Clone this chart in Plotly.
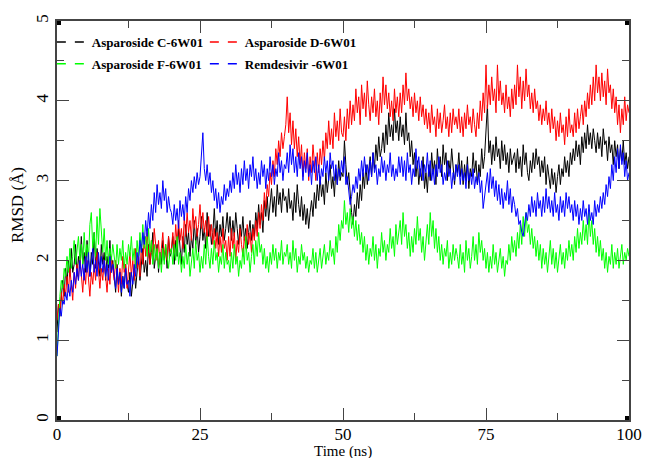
import numpy as np
import plotly.graph_objects as go

# RMSD samples every 0.25 ns from 0 to 100 ns
STEP_NS = 0.25

rmsd_c = [
    1.1, 1.45, 1.3, 1.6, 1.75, 1.55, 1.9, 1.7, 2.0, 1.8, 2.15, 1.85, 1.95, 2.2, 1.8, 2.05, 1.9, 2.3, 1.95, 2.1, 1.85, 2.25, 2.0, 1.8, 2.1, 1.95, 2.35, 1.9, 2.15, 2.0, 1.8, 2.2, 1.95, 2.1, 1.75, 2.05, 1.9, 2.25, 1.85, 2.0,
    1.8, 1.6, 1.95, 1.7, 1.85, 1.55, 1.8, 1.65, 1.95, 1.7, 1.6, 1.85, 1.55, 1.75, 1.9, 1.65, 1.85, 2.05, 1.75, 1.95, 2.15, 1.85, 2.0, 1.8, 2.2, 1.95, 2.1, 2.35, 1.9, 2.05, 2.2, 1.85, 2.1, 1.95, 2.25, 2.0, 2.15, 1.9, 2.3, 2.05,
    2.1, 2.3, 1.95, 2.25, 2.05, 2.4, 2.15, 1.95, 2.3, 2.1, 2.45, 2.2, 2.35, 2.05, 2.3, 2.15, 2.5, 2.2, 2.4, 2.1, 2.3, 2.55, 2.25, 2.4, 2.15, 2.6, 2.3, 2.45, 2.2, 2.35, 2.65, 2.3, 2.5, 2.2, 2.45, 2.3, 2.55, 2.25, 2.4, 2.6,
    2.35, 2.55, 2.25, 2.5, 2.3, 2.6, 2.4, 2.2, 2.45, 2.3, 2.55, 2.25, 2.4, 2.15, 2.35, 2.5, 2.25, 2.45, 2.3, 2.6, 2.4, 2.7, 2.45, 2.6, 2.35, 2.75, 2.55, 2.8, 2.5, 2.7, 2.9, 2.6, 2.8, 2.55, 2.95, 2.7, 2.85, 2.6, 2.9, 2.75,
    2.8, 2.6, 2.9, 2.65, 2.75, 2.5, 2.85, 2.6, 2.95, 2.7, 2.55, 2.8, 2.5, 2.7, 2.45, 2.65, 2.4, 2.6, 2.75, 2.55, 2.85, 2.65, 2.95, 2.75, 3.05, 2.8, 2.95, 2.7, 3.1, 2.85, 3.0, 3.2, 2.9, 3.05, 2.8, 3.15, 2.95, 3.25, 3.0, 3.1,
    3.05, 3.5, 3.2, 2.95, 3.1, 2.8, 2.6, 2.45, 2.7, 2.55, 2.85, 2.65, 2.95, 2.75, 3.1, 2.9, 3.2, 2.95, 3.15, 3.3, 3.05, 3.35, 3.15, 3.45, 3.25, 3.55, 3.3, 3.4, 3.6, 3.35, 3.7, 3.45, 3.85, 3.55, 3.7, 3.5, 3.9, 3.6, 3.75, 3.5,
    3.8, 3.55, 3.7, 3.45, 3.85, 3.5, 3.6, 3.3, 3.5, 3.2, 3.35, 3.05, 3.25, 2.95, 3.15, 3.0, 3.3, 2.9, 3.1, 2.85, 3.2, 3.0, 3.35, 3.1, 3.25, 2.95, 3.4, 3.15, 3.3, 3.05, 3.45, 3.2, 3.35, 3.0, 3.25, 3.1, 3.4, 3.15, 2.95, 3.2,
    3.1, 3.35, 3.05, 3.25, 2.95, 3.2, 3.0, 3.3, 2.9, 3.15, 3.05, 3.35, 3.1, 3.25, 2.95, 3.2, 3.05, 3.4, 3.15, 3.3, 3.6, 3.95, 3.35, 3.5, 3.2, 3.45, 3.25, 3.55, 3.3, 3.4, 3.15, 3.5, 3.25, 3.45, 3.2, 3.35, 3.1, 3.4, 3.2, 3.3,
    3.35, 3.1, 3.4, 3.15, 3.3, 3.05, 3.45, 3.2, 3.35, 3.1, 3.0, 3.25, 3.1, 3.35, 3.15, 3.4, 3.2, 3.3, 3.05, 3.25, 3.1, 3.3, 2.95, 3.2, 3.05, 2.9, 3.15, 2.95, 3.1, 2.85, 3.05, 3.2, 2.95, 3.15, 3.05, 3.3, 3.1, 3.25, 3.05, 3.35,
    3.2, 3.4, 3.25, 3.5, 3.3, 3.45, 3.2, 3.55, 3.35, 3.6, 3.4, 3.7, 3.45, 3.6, 3.4, 3.65, 3.5, 3.35, 3.6, 3.4, 3.55, 3.3, 3.65, 3.45, 3.5, 3.25, 3.55, 3.35, 3.45, 3.2, 3.5, 3.3, 3.45, 3.15, 3.4, 3.25, 3.5, 3.2, 3.35, 3.15,
    3.3,
]

rmsd_d = [
    1.25, 1.45, 1.35, 1.6, 1.45, 1.7, 1.55, 1.8, 1.6, 1.9, 1.7, 1.5, 1.85, 1.65, 1.95, 1.75, 2.05, 1.8, 1.6, 1.9, 1.7, 2.0, 1.8, 1.55, 1.85, 1.7, 1.95, 1.75, 2.1, 1.85, 1.65, 1.9, 1.75, 2.0, 1.8, 1.6, 1.9, 1.7, 2.05, 1.85,
    1.75, 2.0, 1.85, 1.6, 1.9, 1.7, 2.05, 1.85, 1.95, 1.65, 1.9, 2.1, 1.8, 2.0, 1.75, 2.15, 1.9, 2.05, 1.8, 2.2, 1.95, 2.3, 2.05, 2.35, 2.1, 1.95, 2.25, 2.05, 2.4, 2.15, 2.0, 2.25, 1.95, 2.15, 2.35, 2.05, 2.2, 2.0, 2.3, 2.1,
    2.15, 2.35, 2.1, 2.45, 2.2, 2.5, 2.25, 2.4, 2.15, 2.55, 2.3, 2.6, 2.35, 2.5, 2.25, 2.65, 2.4, 2.55, 2.3, 2.45, 2.7, 2.4, 2.6, 2.35, 2.5, 2.25, 2.55, 2.3, 2.45, 2.2, 2.4, 2.15, 2.35, 2.05, 2.3, 2.1, 2.4, 2.15, 2.25, 2.0,
    2.3, 2.05, 2.4, 2.15, 2.35, 2.0, 2.25, 2.1, 2.4, 2.2, 2.05, 2.3, 2.15, 2.45, 2.2, 2.35, 2.1, 2.4, 2.25, 2.5, 2.3, 2.6, 2.4, 2.7, 2.5, 2.85, 2.65, 2.95, 2.8, 3.1, 2.95, 3.25, 3.05, 3.4, 3.2, 3.5, 3.3, 3.6, 3.4, 3.55,
    3.7, 4.05, 3.6, 3.85, 3.45, 3.75, 3.4, 3.65, 3.3, 3.55, 3.2, 3.45, 3.05, 3.35, 3.15, 3.4, 3.0, 3.3, 3.1, 3.45, 3.2, 3.0, 3.35, 3.1, 3.4, 3.2, 3.5, 3.25, 3.6, 3.4, 3.75, 3.45, 3.65, 3.4, 3.85, 3.55, 3.75, 3.5, 3.9, 3.6,
    3.55, 3.8, 3.5, 3.9, 3.65, 4.0, 3.7, 3.95, 3.75, 4.15, 3.85, 4.05, 3.7, 4.2, 3.9, 4.1, 3.8, 4.25, 3.95, 3.75, 4.05, 3.85, 4.15, 3.8, 4.0, 3.7, 4.1, 3.85, 4.3, 3.95, 4.2, 3.9, 4.1, 3.8, 4.0, 3.75, 4.15, 3.85, 4.05, 3.8,
    4.1, 3.85, 4.2, 3.95, 4.35, 4.0, 4.15, 3.9, 4.05, 3.8, 4.1, 3.85, 4.0, 3.75, 4.05, 3.8, 3.95, 3.7, 3.9, 3.65, 3.85, 3.6, 3.95, 3.7, 3.8, 3.55, 3.9, 3.65, 3.85, 3.6, 3.75, 3.95, 3.65, 3.8, 3.55, 3.85, 3.6, 3.9, 3.7, 3.8,
    3.65, 3.9, 3.6, 3.8, 3.55, 3.85, 3.65, 3.95, 3.7, 3.8, 3.6, 3.9, 3.7, 3.55, 3.85, 3.65, 4.0, 3.75, 4.1, 3.85, 4.45, 3.9, 4.2, 3.95, 4.3, 4.0, 4.15, 3.85, 4.45, 4.0, 4.25, 3.95, 4.1, 3.85, 4.2, 3.9, 4.05, 3.8, 4.15, 3.9,
    4.2, 3.95, 4.45, 4.05, 4.3, 3.9, 4.25, 4.0, 4.4, 4.05, 4.2, 3.9, 4.1, 3.85, 4.15, 3.9, 4.0, 3.75, 3.95, 3.7, 3.9, 3.75, 4.0, 3.7, 3.85, 3.6, 3.9, 3.65, 3.8, 3.5, 3.75, 3.55, 3.85, 3.6, 3.7, 3.45, 3.8, 3.55, 3.9, 3.6,
    3.7, 3.55, 3.85, 3.6, 3.9, 3.65, 3.8, 3.95, 3.7, 4.0, 3.8, 4.1, 3.9, 4.2, 3.95, 4.3, 4.0, 4.45, 4.1, 4.3, 4.0, 4.35, 4.05, 4.25, 3.95, 4.4, 4.1, 4.2, 3.9, 4.15, 3.85, 4.05, 3.7, 3.95, 3.6, 3.9, 3.7, 4.05, 3.75, 3.95,
    3.85,
]

rmsd_f = [
    0.8, 1.3, 1.55, 1.75, 1.65, 1.9, 1.8, 2.05, 1.85, 2.15, 1.9, 2.05, 2.25, 1.95, 2.1, 2.3, 2.0, 2.2, 1.95, 2.35, 2.05, 2.2, 2.0, 2.45, 2.6, 2.15, 2.35, 2.05, 2.55, 2.2, 2.65, 2.3, 2.1, 2.4, 2.0, 2.25, 1.95, 2.15, 2.0, 2.2,
    2.05, 1.9, 2.2, 1.95, 2.15, 2.0, 2.25, 1.9, 2.1, 1.95, 2.2, 2.05, 2.3, 2.0, 2.15, 1.9, 2.25, 2.05, 2.35, 2.1, 2.45, 2.15, 2.3, 2.05, 2.4, 2.1, 2.25, 1.95, 2.2, 2.0, 2.15, 1.9, 2.1, 1.85, 2.15, 1.95, 2.2, 2.0, 1.9, 2.1,
    2.15, 1.95, 2.2, 2.0, 2.3, 1.95, 2.1, 1.85, 2.05, 1.9, 2.2, 1.95, 2.1, 1.8, 2.0, 2.15, 1.9, 2.25, 2.0, 2.1, 1.85, 2.05, 1.9, 2.2, 1.95, 2.3, 2.05, 1.9, 2.15, 1.95, 2.25, 2.0, 2.1, 1.85, 2.05, 1.95, 2.2, 1.9, 2.1, 1.95,
    2.0, 1.85, 2.1, 1.9, 2.2, 1.95, 2.05, 1.8, 2.0, 1.9, 2.15, 1.95, 2.3, 2.0, 2.1, 1.85, 2.05, 2.2, 1.95, 2.25, 2.05, 2.35, 2.1, 2.2, 1.95, 2.15, 1.9, 2.05, 1.85, 2.1, 1.95, 2.2, 2.0, 2.15, 1.9, 2.1, 2.0, 2.25, 1.95, 2.1,
    2.05, 2.2, 1.95, 2.1, 1.9, 2.25, 2.0, 2.15, 1.85, 2.05, 1.95, 2.2, 2.0, 2.1, 1.9, 2.05, 1.85, 2.0, 1.95, 2.15, 1.9, 2.1, 1.85, 2.0, 2.15, 1.9, 2.05, 2.2, 1.95, 2.1, 2.0, 2.25, 2.05, 2.15, 1.95, 2.3, 2.1, 2.45, 2.25, 2.5,
    2.4, 2.75, 2.45, 2.6, 2.35, 2.65, 2.4, 2.55, 2.3, 2.5, 2.25, 2.45, 2.2, 2.35, 2.1, 2.3, 2.0, 2.2, 1.95, 2.15, 2.05, 2.3, 2.0, 2.2, 1.9, 2.15, 2.05, 2.35, 2.1, 2.25, 2.0, 2.2, 2.1, 2.4, 2.15, 2.3, 2.05, 2.45, 2.2, 2.35,
    2.5, 2.2, 2.6, 2.3, 2.45, 2.15, 2.35, 2.05, 2.3, 2.1, 2.4, 2.2, 2.55, 2.25, 2.4, 2.1, 2.3, 2.0, 2.25, 2.45, 2.2, 2.6, 2.3, 2.5, 2.15, 2.4, 2.1, 2.3, 2.0, 2.2, 1.95, 2.15, 2.05, 2.25, 1.9, 2.1, 1.95, 2.2, 2.0, 2.15,
    2.05, 1.9, 2.2, 1.95, 2.1, 1.85, 2.25, 2.0, 2.15, 1.9, 2.05, 2.3, 2.0, 2.2, 1.95, 2.35, 2.1, 2.25, 2.0, 2.15, 1.9, 2.1, 1.85, 2.05, 1.9, 2.2, 1.95, 2.1, 1.85, 2.0, 2.15, 1.9, 2.05, 1.8, 2.0, 1.95, 2.2, 2.0, 2.3, 2.1,
    2.25, 2.05, 2.35, 2.15, 2.45, 2.2, 2.55, 2.3, 2.6, 2.35, 2.45, 2.2, 2.4, 2.15, 2.3, 2.05, 2.25, 2.0, 2.2, 1.9, 2.15, 1.95, 2.1, 1.85, 2.05, 2.25, 1.95, 2.15, 1.9, 2.1, 1.85, 2.05, 2.2, 1.95, 2.1, 1.9, 2.15, 2.0, 2.25, 2.05,
    2.2, 2.0, 2.3, 2.1, 2.4, 2.15, 2.35, 2.2, 2.5, 2.25, 2.45, 2.2, 2.6, 2.3, 2.5, 2.2, 2.4, 2.1, 2.3, 2.05, 2.25, 2.0, 2.15, 1.9, 2.1, 1.85, 2.05, 1.95, 2.2, 1.9, 2.1, 1.95, 2.15, 1.9, 2.05, 2.2, 1.95, 2.1, 2.0, 2.15,
    2.05,
]

rmsd_remdesivir = [
    0.8, 1.2, 1.4, 1.3, 1.5, 1.45, 1.6, 1.5, 1.7, 1.55, 1.75, 1.6, 1.85, 1.7, 1.9, 1.75, 2.0, 1.8, 1.95, 1.75, 2.05, 1.85, 2.1, 1.8, 1.95, 2.15, 1.85, 2.0, 1.8, 2.1, 1.9, 2.05, 1.85, 2.0, 1.8, 1.95, 1.75, 2.05, 1.85, 1.95,
    1.8, 1.65, 1.9, 1.7, 1.85, 1.6, 1.8, 1.65, 1.9, 1.7, 1.75, 1.55, 1.85, 1.7, 1.95, 1.8, 2.1, 1.95, 2.25, 2.1, 2.35, 2.2, 2.5, 2.3, 2.6, 2.4, 2.7, 2.5, 2.85, 2.6, 2.95, 2.7, 2.85, 2.65, 3.0, 2.75, 2.9, 2.6, 2.8, 2.65,
    2.6, 2.45, 2.7, 2.5, 2.65, 2.4, 2.75, 2.55, 2.7, 2.5, 2.8, 2.6, 2.9, 2.75, 3.0, 2.85, 3.05, 2.9, 3.1, 2.95, 3.05, 3.3, 3.6, 3.15, 3.0, 3.2, 2.95, 3.1, 2.85, 3.0, 2.75, 2.9, 2.65, 2.85, 2.6, 2.8, 2.7, 2.95, 2.75, 2.9,
    2.8, 3.0, 2.85, 3.1, 2.9, 3.2, 2.95, 3.1, 2.85, 3.15, 2.95, 3.25, 3.0, 3.15, 2.9, 3.2, 3.05, 3.3, 3.0, 3.15, 2.9, 3.1, 2.95, 3.25, 3.05, 3.2, 2.9, 3.15, 3.0, 3.3, 3.05, 3.2, 2.95, 3.15, 3.05, 3.35, 3.1, 3.25, 3.0, 3.2,
    3.15, 3.35, 3.1, 3.45, 3.2, 3.4, 3.1, 3.3, 3.05, 3.35, 3.15, 3.3, 3.0, 3.25, 3.1, 3.35, 3.05, 3.2, 2.95, 3.25, 3.1, 3.3, 3.0, 3.2, 2.95, 3.15, 3.05, 3.3, 3.1, 3.25, 3.0, 3.35, 3.15, 3.25, 3.0, 3.2, 2.95, 3.15, 3.05, 3.25,
    3.1, 3.3, 2.95, 3.05, 2.85, 2.7, 2.8, 2.95, 2.85, 3.05, 2.9, 3.15, 3.0, 3.25, 3.05, 3.3, 3.1, 3.2, 3.0, 3.25, 3.05, 3.35, 3.1, 3.2, 2.95, 3.15, 3.05, 3.3, 3.1, 3.25, 3.0, 3.2, 3.1, 3.35, 3.05, 3.2, 3.0, 3.15, 3.05, 3.3,
    3.1, 3.3, 3.05, 3.25, 3.0, 3.35, 3.1, 3.2, 2.95, 3.15, 3.05, 3.4, 3.15, 3.3, 3.05, 3.25, 3.0, 3.2, 3.1, 3.35, 3.05, 3.25, 3.0, 3.15, 2.95, 3.2, 3.05, 3.3, 3.1, 3.2, 2.95, 3.1, 3.0, 3.25, 3.05, 3.15, 2.9, 3.1, 3.0, 3.2,
    3.05, 3.2, 2.95, 3.15, 3.0, 3.1, 2.9, 3.2, 3.0, 3.1, 2.95, 3.15, 2.9, 3.05, 2.95, 3.1, 2.85, 3.0, 2.65, 2.8, 2.9, 3.1, 2.85, 3.15, 2.9, 3.05, 2.8, 3.0, 2.75, 2.95, 2.7, 2.9, 2.65, 2.85, 2.75, 3.0, 2.7, 2.9, 2.6, 2.8,
    2.7, 2.55, 2.65, 2.45, 2.5, 2.35, 2.3, 2.45, 2.6, 2.5, 2.7, 2.55, 2.8, 2.6, 2.75, 2.55, 2.85, 2.65, 2.75, 2.55, 2.8, 2.6, 2.9, 2.65, 2.8, 2.6, 2.75, 2.55, 2.85, 2.6, 2.7, 2.5, 2.8, 2.6, 2.75, 2.55, 2.85, 2.65, 2.8, 2.6,
    2.7, 2.5, 2.75, 2.55, 2.7, 2.45, 2.65, 2.5, 2.75, 2.55, 2.65, 2.45, 2.7, 2.5, 2.6, 2.45, 2.75, 2.55, 2.7, 2.6, 2.8, 2.65, 2.85, 2.7, 2.95, 2.8, 3.05, 2.9, 3.2, 3.0, 3.3, 3.1, 3.4, 3.15, 3.45, 3.2, 3.35, 3.05, 3.25, 3.0,
    3.1,
]

series_names = ["Asparoside C-6W01", "Asparoside D-6W01", "Asparoside F-6W01", "Remdesivir -6W01"]
series_values = [rmsd_c, rmsd_d, rmsd_f, rmsd_remdesivir]
series_colors = ["#000000", "#ff0000", "#00ff00", "#0000ff"]
legend_groups = ["legend", "legend", "legend2", "legend2"]

x_ticks = [0, 25, 50, 75, 100]
y_ticks = [0, 1, 2, 3, 4, 5]

serif = "Liberation Serif"
frame_color = "#444444"
label_font = dict(family=serif, size=17, color="#000000")

fig = go.Figure()

# RMSD traces
for name, vals, col in zip(series_names, series_values, series_colors):
    t = np.arange(len(vals)) * STEP_NS
    fig.add_trace(go.Scatter(
        x=t, y=vals, mode="lines", name=name,
        line=dict(color=col, width=1), showlegend=False,
    ))

# Legend entries with dashed keys
for name, col, lg in zip(series_names, series_colors, legend_groups):
    fig.add_trace(go.Scatter(
        x=[None], y=[None], mode="lines", name=name,
        line=dict(color=col, width=1.5, dash="dash"), legend=lg,
    ))

axis_common = dict(
    showline=True, linecolor=frame_color, linewidth=1.5, mirror="ticks",
    ticks="inside", tickcolor=frame_color, tickwidth=1.2, ticklen=12,
    showgrid=False, zeroline=False, automargin=False,
    tickfont=label_font,
)
minor_common = dict(ticks="inside", ticklen=7, tickcolor=frame_color, tickwidth=1.2)

fig.update_xaxes(
    range=[0, 100], tickvals=x_ticks, ticklabelstandoff=-2,
    minor=dict(dtick=12.5, **minor_common),
    **axis_common,
)
fig.update_yaxes(
    range=[0, 5], tickvals=y_ticks, tickangle=-90,
    minor=dict(dtick=0.5, **minor_common),
    **axis_common,
)

# Axis titles
fig.add_annotation(text="Time (ns)", xref="paper", yref="paper", x=0.5, y=-0.079,
                   xanchor="center", yanchor="middle", showarrow=False,
                   font=dict(family=serif, size=15, color="#000000"))
fig.add_annotation(text="RMSD (Å)", xref="paper", yref="paper", x=-0.068, y=0.539,
                   xanchor="center", yanchor="middle", textangle=-90, showarrow=False,
                   font=label_font)

# Small square markers on the frame corners
for cx in (0, 100):
    for cy in (0, 5):
        fig.add_shape(
            type="rect", xref="x", yref="y", xsizemode="pixel", ysizemode="pixel",
            xanchor=cx, yanchor=cy, x0=-4, x1=4, y0=-4, y1=4,
            fillcolor="#000000", line=dict(width=0), layer="above",
        )

legend_font = dict(family=serif, size=13, color="#000000", weight="bold")
fig.update_layout(
    width=648, height=458,
    margin=dict(l=57, r=19, t=21, b=38),
    paper_bgcolor="#ffffff", plot_bgcolor="#ffffff",
    legend=dict(orientation="h", x=-0.009, xanchor="left", y=0.947, yanchor="middle",
                entrywidth=108, entrywidthmode="pixels", font=legend_font,
                bgcolor="rgba(0,0,0,0)"),
    legend2=dict(orientation="h", x=-0.009, xanchor="left", y=0.893, yanchor="middle",
                 entrywidth=108, entrywidthmode="pixels", font=legend_font,
                 bgcolor="rgba(0,0,0,0)"),
)

fig.write_html("out.html")
